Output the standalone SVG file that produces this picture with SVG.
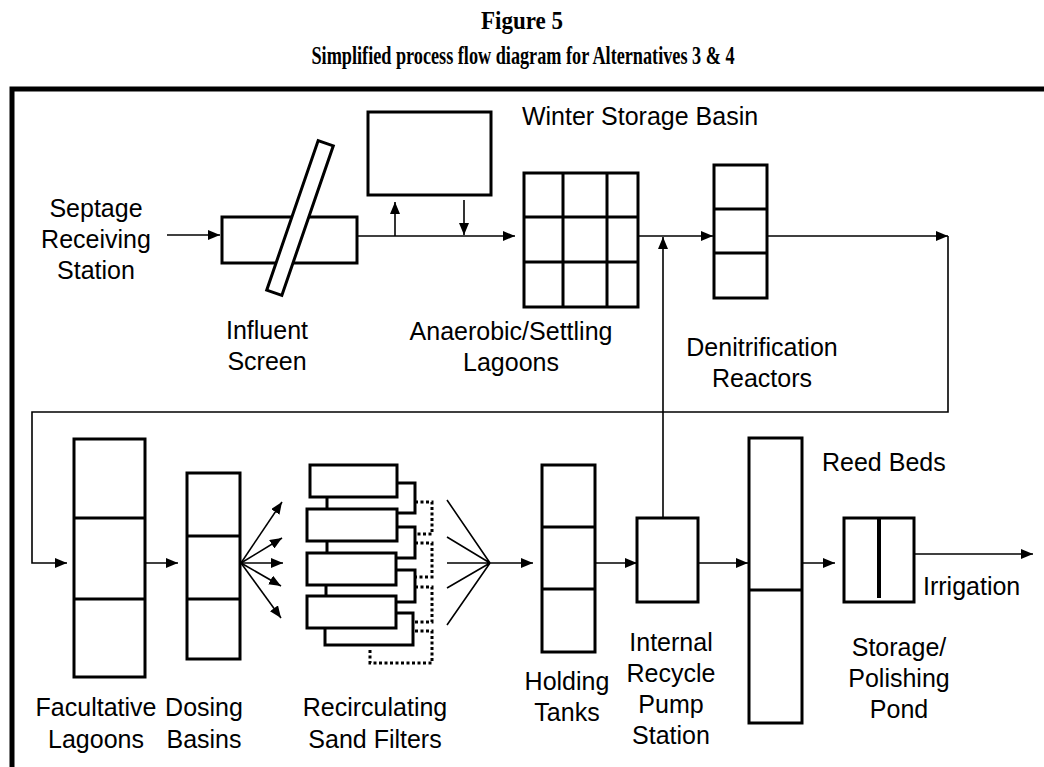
<svg xmlns="http://www.w3.org/2000/svg" width="1044" height="767" viewBox="0 0 1044 767">
<defs>
<marker id="arrow" markerUnits="userSpaceOnUse" markerWidth="12" markerHeight="10" refX="12" refY="5" orient="auto"><path d="M0,0 L12,5 L0,10 z" fill="#000"/></marker>
</defs>
<style>
.box{fill:#fff;stroke:#000;stroke-width:3}
.div{stroke:#000;stroke-width:3;fill:none}
.flow{stroke:#000;stroke-width:1.6;fill:none}
.arr{marker-end:url(#arrow)}
.dot{stroke:#000;stroke-width:3;fill:none;stroke-dasharray:3 2.5}
.lbl{font-family:"Liberation Sans",Arial,sans-serif;font-size:25px;fill:#000;text-anchor:middle}
.lbl-l{font-family:"Liberation Sans",Arial,sans-serif;font-size:25px;fill:#000;text-anchor:start}
.title{font-family:"Liberation Serif","Times New Roman",serif;font-weight:bold;font-size:26px;fill:#000;text-anchor:middle}
</style>
<rect width="1044" height="767" fill="#fff"/>

<g id="title">
<text class="title" x="522" y="29" textLength="82" lengthAdjust="spacingAndGlyphs">Figure 5</text>
<text class="title" x="523" y="64" textLength="423" lengthAdjust="spacingAndGlyphs">Simplified process flow diagram for Alternatives 3 &amp; 4</text>
</g>

<path id="frame" d="M12,767 V89 H1044" stroke="#000" stroke-width="5" fill="none"/>

<g id="connectors">
<path class="flow arr" d="M167,235 H220"/>
<path class="flow arr" d="M357,236 H515"/>
<path class="flow arr" d="M395,236 V202"/>
<path class="flow arr" d="M464,200 V235"/>
<path class="flow arr" d="M638,236 H713"/>
<path class="flow arr" d="M663,518 V237"/>
<path class="flow arr" d="M758,236 H948"/>
<path class="flow arr" d="M948,236 V412 H32 V563 H67"/>
<path class="flow arr" d="M145,563 H178"/>
<path class="flow arr" d="M241,563 L282,502"/>
<path class="flow arr" d="M241,563 L282,538"/>
<path class="flow arr" d="M241,563 H283"/>
<path class="flow arr" d="M241,563 L281,586"/>
<path class="flow arr" d="M241,563 L281,618"/>
<path class="flow" d="M447,500 L490,563 M447,537 L490,563 M447,563 L490,563 M447,588 L490,563 M447,625 L490,563"/>
<path class="flow arr" d="M490,563 H533"/>
<path class="flow arr" d="M595,563 H637"/>
<path class="flow arr" d="M698,563 H748"/>
<path class="flow arr" d="M802,563 H835"/>
<path class="flow arr" d="M914,554 H1033"/>
</g>

<g id="septage-receiving">
<text class="lbl" x="96" y="217">Septage</text>
<text class="lbl" x="96" y="248">Receiving</text>
<text class="lbl" x="96" y="279">Station</text>
</g>

<g id="influent-screen">
<rect class="box" x="222" y="217" width="135" height="46"/>
<rect class="box" x="-8" y="-79" width="16" height="158" transform="translate(300,218) rotate(19)"/>
<text class="lbl" x="267" y="339">Influent</text>
<text class="lbl" x="267" y="370">Screen</text>
</g>

<g id="winter-storage">
<rect class="box" x="368" y="112" width="123" height="83"/>
<text class="lbl" x="640" y="125">Winter Storage Basin</text>
</g>

<g id="anaerobic-lagoons">
<rect class="box" x="524" y="173" width="114" height="134"/>
<path class="div" d="M563,173 V307 M607,173 V307 M524,217 H638 M524,262 H638"/>
<text class="lbl" x="511" y="340">Anaerobic/Settling</text>
<text class="lbl" x="511" y="371">Lagoons</text>
</g>

<g id="denitrification">
<rect class="box" x="714" y="165" width="53" height="133"/>
<path class="div" d="M714,209 H767 M714,253 H767"/>
<text class="lbl" x="762" y="356">Denitrification</text>
<text class="lbl" x="762" y="387">Reactors</text>
</g>

<g id="facultative-lagoons">
<rect class="box" x="74" y="439" width="71" height="238"/>
<path class="div" d="M74,518 H145 M74,599 H145"/>
<text class="lbl" x="96" y="716">Facultative</text>
<text class="lbl" x="96" y="748">Lagoons</text>
</g>

<g id="dosing-basins">
<rect class="box" x="187" y="473" width="53" height="186"/>
<path class="div" d="M187,536 H240 M187,599 H240"/>
<text class="lbl" x="204" y="716">Dosing</text>
<text class="lbl" x="204" y="748">Basins</text>
</g>

<g id="sand-filters">
<path class="div" d="M327,497 V509 M327,541 V553 M326,585 V596"/>
<path class="div" d="M397,483 H415 V513 H397 M397,527 H415 V558 H397 M396,570 H415 V602 H396 M396,613 H413 V645 H325 V628"/>
<path class="dot" d="M415,502 H432 V534 H415 M415,543 H432 V577 H415 M415,587 H432 V622 H415 M415,631 H432 V663 H370 V648"/>
<rect class="box" x="310" y="465" width="87" height="32"/>
<rect class="box" x="307" y="509" width="90" height="32"/>
<rect class="box" x="307" y="553" width="89" height="32"/>
<rect class="box" x="307" y="596" width="89" height="32"/>
<text class="lbl" x="375" y="716">Recirculating</text>
<text class="lbl" x="375" y="748">Sand Filters</text>
</g>

<g id="holding-tanks">
<rect class="box" x="542" y="465" width="53" height="187"/>
<path class="div" d="M542,527 H595 M542,589 H595"/>
<text class="lbl" x="567" y="690">Holding</text>
<text class="lbl" x="567" y="721">Tanks</text>
</g>

<g id="recycle-pump">
<rect class="box" x="637" y="518" width="61" height="84"/>
<text class="lbl" x="671" y="651">Internal</text>
<text class="lbl" x="671" y="682">Recycle</text>
<text class="lbl" x="671" y="713">Pump</text>
<text class="lbl" x="671" y="744">Station</text>
</g>

<g id="reed-beds">
<rect class="box" x="749" y="438" width="53" height="285"/>
<path class="div" d="M749,590 H802"/>
<text class="lbl-l" x="822" y="471">Reed Beds</text>
</g>

<g id="polishing-pond">
<rect class="box" x="844" y="518" width="70" height="84"/>
<path d="M879,518 V598" stroke="#000" stroke-width="4"/>
<text class="lbl" x="899" y="656">Storage/</text>
<text class="lbl" x="899" y="687">Polishing</text>
<text class="lbl" x="899" y="718">Pond</text>
</g>

<g id="irrigation">
<text class="lbl-l" x="923" y="595">Irrigation</text>
</g>
</svg>
